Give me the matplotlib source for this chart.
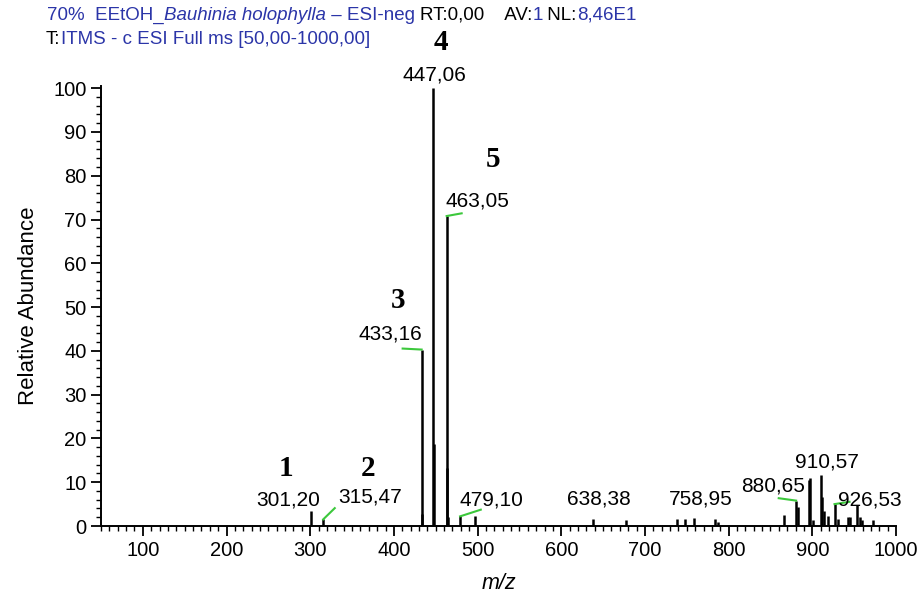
import matplotlib
matplotlib.use("Agg")
import matplotlib.pyplot as plt
from matplotlib.ticker import MultipleLocator
from matplotlib.transforms import offset_copy

plt.rcParams['font.family'] = ['Liberation Sans', 'DejaVu Sans']

# Spectrum peaks (m/z, relative abundance)
mz = [301.20, 315.47, 433.16, 434.1, 447.06, 448.1, 463.05, 464.05, 465.0,
      479.10, 497.0, 638.38, 677.8, 738.0, 747.4, 758.95, 784.0, 787.0,
      866.6, 880.65, 882.6, 895.7, 897.7, 900.8, 910.57, 911.7, 914.0,
      918.8, 926.53, 930.4, 942.8, 945.6, 953.5, 956.5, 958.9, 972.4]
abund = [3.4, 1.5, 40.3, 2.7, 100.0, 18.8, 70.8, 13.3, 2.0,
         2.2, 2.2, 1.6, 1.4, 1.7, 1.7, 1.8, 1.7, 0.9,
         2.6, 5.8, 4.4, 10.5, 10.9, 1.4, 11.7, 6.7, 3.5,
         2.3, 5.0, 1.5, 2.0, 2.0, 4.9, 2.1, 1.4, 1.4]

# Labelled peaks: (m/z, abundance, text)
lab_mz = [301.20, 315.47, 433.16, 447.06, 463.05, 479.10, 638.38, 758.95,
          880.65, 910.57, 926.53]
lab_ab = [3.4, 1.5, 40.3, 100.0, 70.8, 2.2, 1.6, 1.8, 5.8, 11.7, 5.0]
lab_txt = ["301,20", "315,47", "433,16", "447,06", "463,05", "479,10",
           "638,38", "758,95", "880,65", "910,57", "926,53"]

# Compound numbers
cmp_txt = ["1", "2", "3", "4", "5"]

BLUE = '#2b35a8'
GREEN = '#3cc83c'

fig = plt.figure(figsize=(9.19, 5.95), dpi=100)
ax = fig.add_axes([101 / 919, 1 - 526 / 595, (896 - 101) / 919, (526 - 86) / 595])

ax.vlines(mz, 0, abund, color='black', linewidth=1.8)

ax.set_xlim(50, 1000)
ax.set_ylim(0, 100.5)
ax.xaxis.set_major_locator(MultipleLocator(100))
ax.xaxis.set_minor_locator(MultipleLocator(10))
ax.yaxis.set_major_locator(MultipleLocator(10))
ax.yaxis.set_minor_locator(MultipleLocator(2))
ax.tick_params(which='major', length=7, width=1.3, labelsize=14.5, direction='out')
ax.tick_params(which='minor', length=3.5, width=1.0, direction='out')
for s in ['top', 'right']:
    ax.spines[s].set_visible(False)
for s in ['left', 'bottom']:
    ax.spines[s].set_linewidth(1.4)

ax.set_ylabel("Relative Abundance", fontsize=16, labelpad=10)
ax.set_xlabel("m/z", fontsize=15.5, style='italic', labelpad=10)

# label placement in pixels: text (dx, dy, ha), leader end (dx, dy) or None
lab_pos = [(-23, 6, 'center', None),
           (15, 17, 'left', (11.6, 11.3)),
           (1, 10, 'right', (-19, 1)),
           (1, 8, 'center', None),
           (-1, 10, 'left', (15, 2.7)),
           (-1, 11, 'left', (20.7, 6.7)),
           (5, 14, 'center', None),
           (6, 14, 'center', None),
           (9, 9, 'right', (-17.4, 2.4)),
           (6, 7, 'center', None),
           (3, -1, 'left', (15, 2.3))]

for m, a, t, (dx, dy, ha, lead) in zip(lab_mz, lab_ab, lab_txt, lab_pos):
    tr = offset_copy(ax.transData, fig=fig, x=dx, y=dy, units='dots')
    ax.text(m, a, t, transform=tr, ha=ha, va='baseline', fontsize=15,
            clip_on=False)
    if lead is not None:
        ltr = offset_copy(ax.transData, fig=fig, x=lead[0], y=lead[1], units='dots')
        p0 = ax.transData.transform((m, a))
        p1 = ltr.transform((m, a))
        ax.plot([p0[0], p1[0]], [p0[1], p1[1]], color=GREEN, linewidth=1.5,
                transform=None, clip_on=False)

# compound numbers (bold serif)
cmp_xy = [(286, 468), (368, 468), (398, 300), (441, 42), (493, 160)]
for t, (px, py) in zip(cmp_txt, cmp_xy):
    fig.text(px / 919, 1 - py / 595, t, fontsize=21, fontweight='bold',
             family='Liberation Serif', ha='center', va='center')

# header lines with mixed styles
renderer = fig.canvas.get_renderer()


def header(pieces, x0, y0):
    x = x0
    for txt, col, sty in pieces:
        tt = fig.text(x / 919, 1 - y0 / 595, txt, color=col, style=sty,
                      fontsize=13.5, ha='left', va='baseline')
        bb = tt.get_window_extent(renderer=renderer)
        x += bb.width


header([("70%  EEtOH_", BLUE, 'normal'),
        ("Bauhinia holophylla", BLUE, 'italic'),
        (" \u2013 ESI-neg ", BLUE, 'normal'),
        ("RT:0,00    AV:", 'black', 'normal'),
        ("1", BLUE, 'normal'),
        (" NL:", 'black', 'normal'),
        ("8,46E1", BLUE, 'normal')], 47, 20)
header([("T:", 'black', 'normal'),
        ("ITMS - c ESI Full ms [50,00-1000,00]", BLUE, 'normal')], 46, 44)

fig.savefig("out.png", dpi=100)
